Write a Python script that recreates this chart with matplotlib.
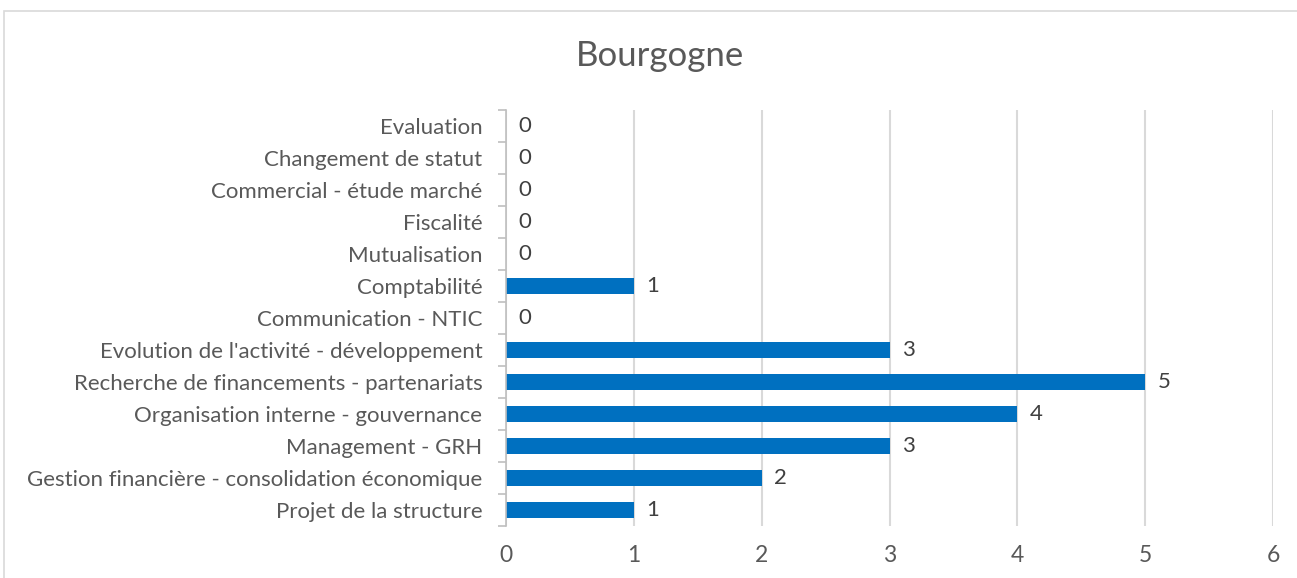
import matplotlib
matplotlib.use("Agg")
import matplotlib.pyplot as plt
from matplotlib.patches import Rectangle
import numpy as np

categories = [
    "Projet de la structure",
    "Gestion financière - consolidation économique",
    "Management - GRH",
    "Organisation interne - gouvernance",
    "Recherche de financements - partenariats",
    "Evolution de l'activité - développement",
    "Communication - NTIC",
    "Comptabilité",
    "Mutualisation",
    "Fiscalité",
    "Commercial - étude marché",
    "Changement de statut",
    "Evaluation",
]
values = [1, 2, 3, 4, 5, 3, 0, 1, 0, 0, 0, 0, 0]
xticks = [0, 1, 2, 3, 4, 5, 6]
title = "Bourgogne"

W, H = 1297, 578
fig = plt.figure(figsize=(W / 100, H / 100), dpi=100)
plt.rcParams['font.family'] = ['Lato', 'DejaVu Sans']

# outer chart border
fig.patches.append(Rectangle((4 / W, -0.2), 1.2, 1.2 - 11 / H, transform=fig.transFigure,
                             fill=False, edgecolor='#d9d9d9', linewidth=1.2))

left, right = 506 / W, 1273 / W
top, bottom = 1 - 110 / H, 1 - 526 / H
ax = fig.add_axes([left, bottom, right - left, top - bottom])

y = np.arange(len(categories))
ax.barh(y, values, height=0.53, color='#0070C0', zorder=3)
ax.set_xlim(0, 6)
ax.set_ylim(-0.5, len(categories) - 0.5)
ax.set_xticks(xticks)
ax.set_xticklabels([str(t) for t in xticks], fontsize=16.5, color='#595959')
ax.tick_params(axis='x', length=0, pad=14)
ax.set_yticks(y)
ax.set_yticklabels(categories, fontsize=16, color='#595959')
ax.tick_params(axis='y', length=0, pad=17)
# minor ticks at category boundaries
ax.set_yticks(np.arange(-0.5, len(categories), 1), minor=True)
ax.tick_params(axis='y', which='minor', length=6, color='#bfbfbf', width=1.2, direction='out')
ax.grid(axis='x', color='#d9d9d9', linewidth=1.5, zorder=0)
for s in ['top', 'right', 'bottom']:
    ax.spines[s].set_visible(False)
ax.spines['left'].set_color('#bfbfbf')
ax.spines['left'].set_linewidth(1.2)
ax.spines['left'].set_zorder(4)

for yi, v in zip(y, values):
    ax.annotate(str(v), (v, yi), xytext=(9, 0), textcoords='offset points',
                va='center', ha='left', fontsize=16, color='#404040')

fig.text(660 / W, 1 - 56 / H, title, ha='center', va='center', fontsize=25, color='#595959')

fig.savefig('out.png', dpi=100)
